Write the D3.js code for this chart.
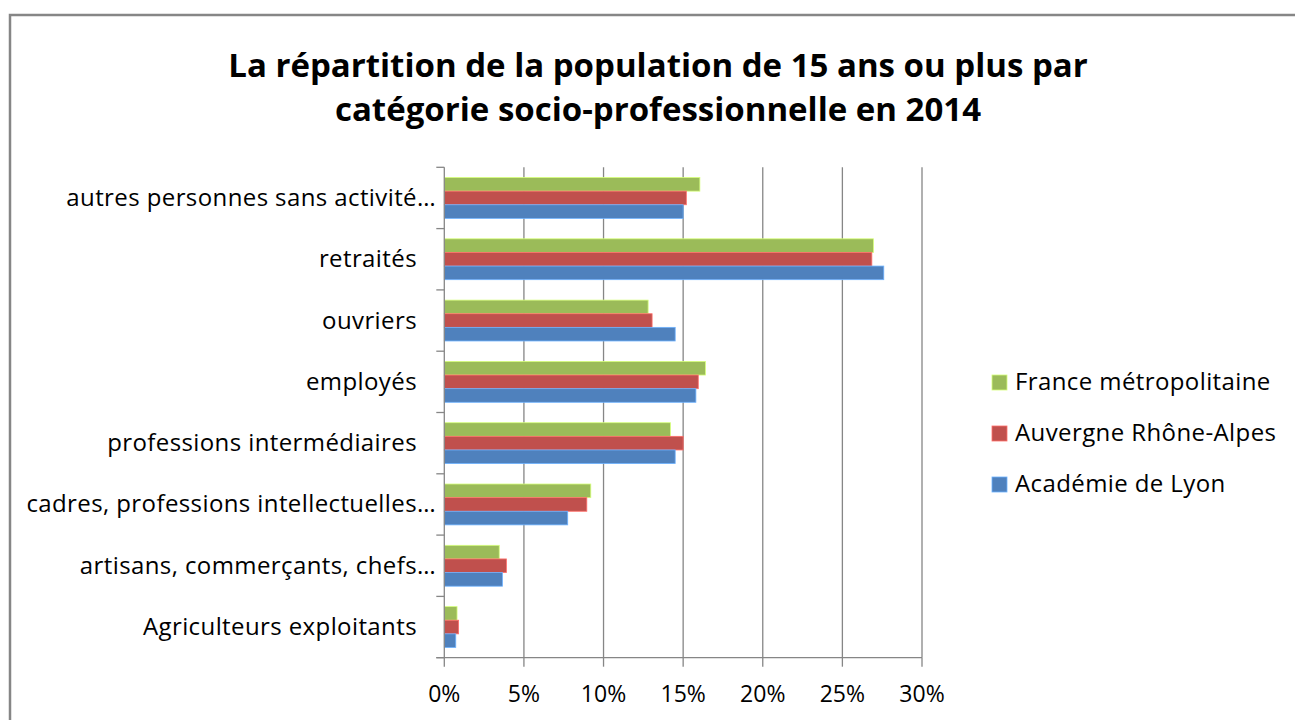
<!DOCTYPE html>
<html>
<head>
<meta charset="utf-8">
<script src="https://cdn.jsdelivr.net/npm/d3@7"></script>
<style>
  body { margin: 0; background: #fff; }
  text { font-family: "Open Sans", Lato, sans-serif; fill: #000; }
</style>
</head>
<body>
<div id="chart"></div>
<script>
// categories from bottom to top, as in the picture
var categories = [
    "Agriculteurs exploitants",
    "artisans, commerçants, chefs",
    "cadres, professions intellectuelles",
    "professions intermédiaires",
    "employés",
    "ouvriers",
    "retraités",
    "autres personnes sans activité"
];
// labels cut with an ellipsis in the original
var truncated = [false, true, true, false, false, false, false, true];

var seriesNames = ["France métropolitaine", "Auvergne Rhône-Alpes", "Académie de Lyon"];
var seriesColors = ["#9bbb59", "#c0504d", "#4f81bd"];

var franceValues = [0.8, 3.45, 9.2, 14.2, 16.4, 12.8, 26.95, 16.05];
var auvergneValues = [0.9, 3.9, 8.95, 15.0, 15.95, 13.05, 26.85, 15.2];
var lyonValues = [0.72, 3.65, 7.75, 14.5, 15.8, 14.5, 27.6, 15.0];

var xTicks = [0, 5, 10, 15, 20, 25, 30];
var titleLines = [
    "La répartition de la population de 15 ans ou plus par",
    "catégorie socio-professionnelle en 2014"
];

var width = 1295;
var height = 720;

var svg = d3.select("#chart")
    .append("svg")
    .attr("width", width)
    .attr("height", height);

// chart frame
svg.append("rect")
    .attr("x", 10)
    .attr("y", 15)
    .attr("width", 1300)
    .attr("height", 720)
    .attr("fill", "none")
    .attr("stroke", "#868686")
    .attr("stroke-width", 2.5);

svg.selectAll(".title")
    .data(titleLines)
    .enter()
    .append("text")
    .attr("class", "title")
    .attr("x", 658)
    .attr("y", function (d, i) { return 77 + i * 44; })
    .attr("text-anchor", "middle")
    .attr("font-size", 33)
    .attr("font-weight", "bold")
    .text(function (d) { return d; });

var plotLeft = 444.3;
var plotRight = 922;
var plotTop = 167.3;
var plotBottom = 657.7;

var x = d3.scaleLinear().domain([0, 30]).range([plotLeft, plotRight]);

var y = d3.scaleBand()
    .domain(categories)
    .range([plotBottom, plotTop]);

// bars inside a group: 3 bars + gap width of 150%
var barHeight = y.bandwidth() / 4.5;
var seriesY = d3.scaleBand()
    .domain([0, 1, 2])
    .range([barHeight * 0.75, barHeight * 3.75]);

// vertical gridlines
svg.append("g")
    .selectAll("line")
    .data(xTicks.slice(1))
    .enter()
    .append("line")
    .attr("x1", function (d) { return x(d); })
    .attr("x2", function (d) { return x(d); })
    .attr("y1", plotTop)
    .attr("y2", plotBottom)
    .attr("stroke", "#868686")
    .attr("stroke-width", 1.3);

// bars
var allSeries = [franceValues, auvergneValues, lyonValues];
allSeries.forEach(function (values, s) {
    svg.append("g")
        .selectAll("rect")
        .data(values)
        .enter()
        .append("rect")
        .attr("x", x(0))
        .attr("y", function (d, i) { return y(categories[i]) + seriesY(s); })
        .attr("width", function (d) { return x(d) - x(0); })
        .attr("height", seriesY.bandwidth())
        .attr("fill", seriesColors[s])
        .attr("stroke", d3.color(seriesColors[s]).brighter(0.9))
        .attr("stroke-width", 0.8);
});

// category axis (left)
var yAxis = svg.append("g")
    .attr("transform", "translate(" + plotLeft + ",0)");

yAxis.append("line")
    .attr("x1", 0).attr("x2", 0)
    .attr("y1", plotTop).attr("y2", plotBottom)
    .attr("stroke", "#868686")
    .attr("stroke-width", 1.3);

var boundaries = categories.map(function (c) { return y(c); }).concat([plotBottom]);
yAxis.selectAll(".ytick")
    .data(boundaries)
    .enter()
    .append("line")
    .attr("x1", -8).attr("x2", 0)
    .attr("y1", function (d) { return d; })
    .attr("y2", function (d) { return d; })
    .attr("stroke", "#868686")
    .attr("stroke-width", 1.3);

var labels = svg.append("g")
    .selectAll("text")
    .data(categories)
    .enter()
    .append("text")
    .attr("x", 417)
    .attr("y", function (d) { return y(d) + y.bandwidth() / 2 + 8; })
    .attr("font-size", 24)
    .attr("letter-spacing", 0.4)
    .attr("fill", "#1a1a1a");

labels.each(function (d, i) {
    var t = d3.select(this);
    t.append("tspan").attr("text-anchor", "end").text(d);
    if (truncated[i]) {
        // ellipsis sticks out past the label edge, as in the source
        var w = this.getComputedTextLength();
        t.attr("text-anchor", "start").attr("x", 417 - w).text("");
        t.append("tspan").text(d + "…");
    }
});
labels.attr("text-anchor", function (d, i) { return truncated[i] ? "start" : "end"; });

// value axis (bottom)
var xAxis = svg.append("g");

xAxis.append("line")
    .attr("x1", plotLeft - 8).attr("x2", plotRight)
    .attr("y1", plotBottom).attr("y2", plotBottom)
    .attr("stroke", "#868686")
    .attr("stroke-width", 1.3);

xAxis.selectAll(".xtick")
    .data(xTicks)
    .enter()
    .append("line")
    .attr("x1", function (d) { return x(d); })
    .attr("x2", function (d) { return x(d); })
    .attr("y1", plotBottom)
    .attr("y2", plotBottom + 9)
    .attr("stroke", "#868686")
    .attr("stroke-width", 1.3);

xAxis.selectAll("text")
    .data(xTicks)
    .enter()
    .append("text")
    .attr("x", function (d) { return x(d); })
    .attr("y", 702)
    .attr("text-anchor", "middle")
    .attr("font-size", 23)
    .attr("fill", "#1a1a1a")
    .text(function (d) { return d + "%"; });

// legend
var legend = svg.append("g")
    .selectAll("g")
    .data(seriesNames)
    .enter()
    .append("g")
    .attr("transform", function (d, i) { return "translate(992," + (382 + i * 51) + ")"; });

legend.append("rect")
    .attr("x", 0)
    .attr("y", -7)
    .attr("width", 15)
    .attr("height", 15)
    .attr("fill", function (d, i) { return seriesColors[i]; })
    .attr("stroke", function (d, i) { return d3.color(seriesColors[i]).brighter(0.9); })
    .attr("stroke-width", 0.8);

legend.append("text")
    .attr("x", 23)
    .attr("y", 8)
    .attr("font-size", 24)
    .attr("letter-spacing", 0.4)
    .attr("fill", "#1a1a1a")
    .text(function (d) { return d; });
</script>
</body>
</html>
